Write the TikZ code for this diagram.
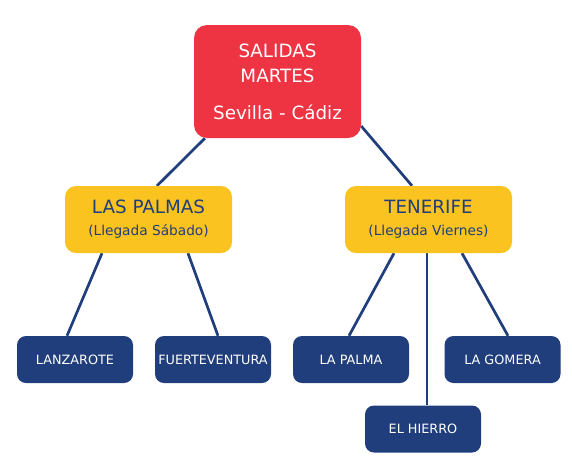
\documentclass[tikz,border=0pt]{standalone}
\usepackage{fontspec}
\setmainfont{DejaVu Sans}
\usetikzlibrary{backgrounds}
\definecolor{salred}{HTML}{EE3342}
\definecolor{islyellow}{HTML}{FBC31F}
\definecolor{islblue}{HTML}{203E7C}
\begin{document}
\begin{tikzpicture}[x=1pt,y=-1pt,
every node/.style={align=center,inner sep=0pt},
topbox/.style={fill=salred,text=white,rounded corners=13pt,minimum width=167pt,minimum height=113pt,font=\fontsize{18.3}{25}\selectfont},
groupbox/.style={fill=islyellow,text=islblue,rounded corners=11pt,minimum width=167pt,minimum height=67pt,font=\fontsize{18.3}{22}\selectfont},
leafbox/.style={fill=islblue,text=white,rounded corners=9pt,minimum width=116pt,minimum height=47pt,font=\fontsize{12.8}{15}\selectfont},
link/.style={draw=islblue,line width=2.7pt}]

\useasboundingbox (0,0) rectangle (572,475);

\node[topbox] (salidas) at (277.5,81.5) {SALIDAS\\MARTES\\[12pt]Sevilla - Cádiz};

\node[groupbox] (palmas) at (148.5,219.5) {LAS PALMAS\\\fontsize{13.7}{22}\selectfont(Llegada Sábado)};
\node[groupbox] (tenerife) at (428.5,219.5) {TENERIFE\\\fontsize{13.7}{22}\selectfont(Llegada Viernes)};

\node[leafbox] (lanzarote) at (75,359.5) {LANZAROTE};
\node[leafbox] (fuerte) at (213,359.5) {FUERTEVENTURA};
\node[leafbox] (lapalma) at (351,359.5) {LA PALMA};
\node[leafbox] (gomera) at (502.5,359.5) {LA GOMERA};
\node[leafbox] (hierro) at (423,429) {EL HIERRO};

\begin{scope}[on background layer]
\draw[link] (salidas.218) -- ([xshift=8.5pt]palmas.north);
\draw[link] (salidas.-28) -- ([xshift=-16.5pt]tenerife.north);
\draw[link] ([xshift=-46.5pt]palmas.south) -- ([xshift=-8pt]lanzarote.north);
\draw[link] ([xshift=39.5pt]palmas.south) -- ([xshift=5pt]fuerte.north);
\draw[link] ([xshift=-34.5pt]tenerife.south) -- ([xshift=-2pt]lapalma.north);
\draw[link] ([xshift=-1.5pt]tenerife.south) -- ([xshift=4pt]hierro.north);
\draw[link] ([xshift=33.5pt]tenerife.south) -- ([xshift=5.5pt]gomera.north);
\end{scope}

\end{tikzpicture}
\end{document}
